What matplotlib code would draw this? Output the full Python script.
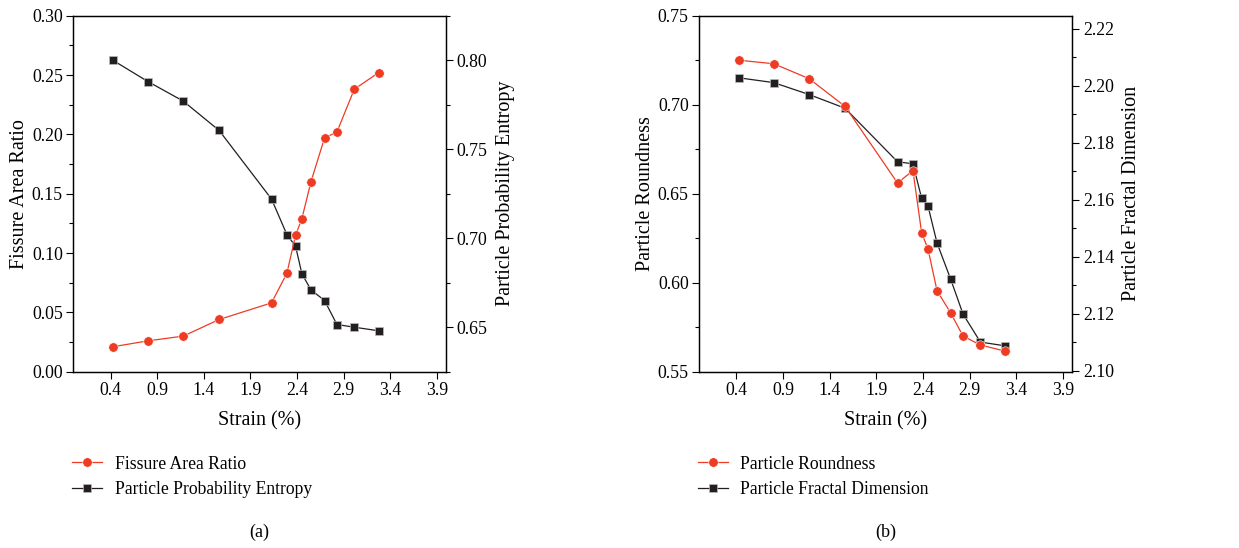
import matplotlib
matplotlib.use("Agg")
import matplotlib.pyplot as plt
from matplotlib.ticker import MultipleLocator

plt.rcParams['font.family'] = ['Liberation Serif', 'DejaVu Serif']
plt.rcParams['font.size'] = 13

RED = '#EE3B24'
BLACK = '#231F20'

# strain (%) at each sampling point
strain = [0.423, 0.80, 1.18, 1.565, 2.127, 2.292, 2.385, 2.453, 2.55, 2.696, 2.829, 3.015, 3.276]

# panel (a)
fissure_ratio = [0.021, 0.026, 0.030, 0.044, 0.058, 0.083, 0.115, 0.129, 0.160,
                 0.197, 0.202, 0.238, 0.252]
prob_entropy = [0.800, 0.788, 0.777, 0.7605, 0.722, 0.702, 0.6955, 0.680, 0.671,
                0.665, 0.6515, 0.650, 0.648]

# panel (b)
roundness = [0.725, 0.723, 0.7146, 0.699, 0.656, 0.663, 0.628, 0.619, 0.5955,
             0.583, 0.570, 0.565, 0.5616]
fractal_dim = [2.2028, 2.2011, 2.1969, 2.1921, 2.1733, 2.1726, 2.1605, 2.1578,
               2.1448, 2.1321, 2.1198, 2.1100, 2.1087]

xticks = [0.4, 0.9, 1.4, 1.9, 2.4, 2.9, 3.4, 3.9]

fig = plt.figure(figsize=(12.39, 5.48), dpi=100)


def style(ax):
    ax.set_xlim(0, 4.0)
    ax.set_xticks(xticks)
    ax.set_xticklabels(['%.1f' % t for t in xticks])
    ax.tick_params(direction='out', length=5, width=0.8, labelsize=12.8, pad=2.5)
    ax.tick_params(which='minor', direction='out', length=3, width=0.8)
    for s in ax.spines.values():
        s.set_linewidth(0.9)


def panel(rect, y1, y2, lab1, lab2, lim1, lim2, step1, step2, tag):
    ax = fig.add_axes(rect)
    ax2 = ax.twinx()
    l1, = ax.plot(strain, y1, '-o', color=RED, lw=0.9, ms=6.8,
                  mec='white', mew=0.4, label=lab1, zorder=3)
    l2, = ax2.plot(strain, y2, '-s', color=BLACK, lw=0.9, ms=6.3,
                   mec='#bbbbbb', mew=0.5, label=lab2)
    style(ax)
    style(ax2)
    ax.set_ylim(*lim1)
    ax2.set_ylim(*lim2)
    ax.yaxis.set_major_locator(MultipleLocator(step1))
    ax.yaxis.set_minor_locator(MultipleLocator(step1 / 2))
    ax2.yaxis.set_major_locator(MultipleLocator(step2))
    ax2.yaxis.set_minor_locator(MultipleLocator(step2 / 2))
    ax.yaxis.set_major_formatter(plt.FormatStrFormatter('%.2f'))
    ax2.yaxis.set_major_formatter(plt.FormatStrFormatter('%.2f'))
    ax.set_zorder(ax2.get_zorder() + 1)
    ax.patch.set_visible(False)
    ax.set_xlabel('Strain (%)', labelpad=9, fontsize=14.5)
    ax.set_ylabel(lab1, labelpad=2, fontsize=14.5)
    ax2.set_ylabel(lab2, labelpad=6, fontsize=14.5)
    ax.legend(handles=[l1, l2], loc='upper left', bbox_to_anchor=(-0.022, -0.216),
              frameon=False, handlelength=1.7, handletextpad=0.7, labelspacing=0.5,
              borderaxespad=0, fontsize=12.7)
    ax.text(0.5, -0.45, tag, transform=ax.transAxes, ha='center', va='center',
            fontsize=13)
    return ax, ax2


panel([0.0592, 0.3217, 0.3008, 0.6497], fissure_ratio, prob_entropy,
      'Fissure Area Ratio', 'Particle Probability Entropy',
      (0, 0.30), (0.625, 0.825), 0.05, 0.05, '(a)')
panel([0.5642, 0.3217, 0.3013, 0.6497], roundness, fractal_dim,
      'Particle Roundness', 'Particle Fractal Dimension',
      (0.55, 0.75), (2.0996, 2.2246), 0.05, 0.02, '(b)')

fig.savefig('out.png', dpi=100)
